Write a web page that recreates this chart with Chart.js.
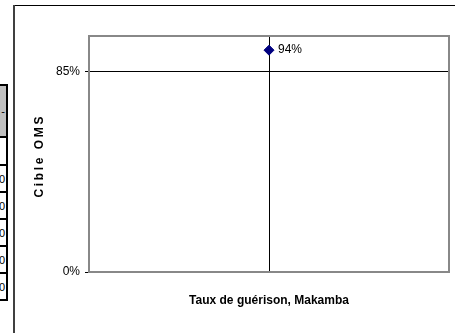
<!DOCTYPE html>
<html>
<head>
<meta charset="utf-8">
<script src="https://cdn.jsdelivr.net/npm/chart.js@4/dist/chart.umd.min.js"></script>
<style>
  html, body { margin: 0; padding: 0; background: #fff; }
  body { width: 455px; height: 333px; position: relative; overflow: hidden; }
  #sheet { position: absolute; left: 0; top: 84px; width: 8px; height: 220px; overflow: hidden; }
  #sheet table { position: absolute; right: 0; top: 0; width: 60px; border-collapse: collapse;
                 font: 11px 'Liberation Sans', Arial, sans-serif; color: #000; }
  #sheet td { border: 2px solid #000; padding: 0 1px 0 0; text-align: right; }
  #sheet tr.head td { background: #c0c0c0; height: 50px; }
  #sheet tr.blank td { height: 26px; }
  #sheet tr.row td { height: 25px; }
  #wrap { position: absolute; left: 0; top: 0; width: 455px; height: 333px; }
</style>
</head>
<body>
<div id="sheet">
  <table>
    <tr class="head"><td>-</td></tr>
    <tr class="blank"><td></td></tr>
    <tr class="row"><td>0</td></tr>
    <tr class="row"><td>0</td></tr>
    <tr class="row"><td>0</td></tr>
    <tr class="row"><td>0</td></tr>
    <tr class="row"><td>0</td></tr>
  </table>
</div>
<div id="wrap"><canvas id="c" width="455" height="333"></canvas></div>
<script>
// Cure rate for Makamba against the WHO target
const categories = ['Makamba'];
const cureRate = [94];
const targetOMS = 85;
const yTickValues = [0, targetOMS];
const xTitle = 'Taux de guérison, Makamba';
const yTitle = 'Cible OMS';

const FONT = "'Liberation Sans', Arial, sans-serif";

const decorations = {
  id: 'decorations',
  beforeDraw(chart) {
    const ctx = chart.ctx;
    ctx.save();
    // chart frame (top and left edges)
    ctx.fillStyle = '#000';
    ctx.fillRect(14, 5, 441, 1);
    ctx.fillStyle = '#404040';
    ctx.fillRect(13, 5, 2, 328);
    ctx.restore();
  },
  beforeDatasetsDraw(chart) {
    const { ctx, chartArea: a } = chart;
    ctx.save();
    ctx.strokeStyle = '#888';
    ctx.lineWidth = 2;
    ctx.strokeRect(a.left, a.top, a.right - a.left, a.bottom - a.top);
    ctx.restore();
  },
  afterDraw(chart) {
    const { ctx, chartArea: a } = chart;
    ctx.save();
    ctx.fillStyle = '#000';
    // value label next to the point
    const el = chart.getDatasetMeta(0).data[0];
    ctx.font = '12px ' + FONT;
    ctx.textAlign = 'left';
    ctx.textBaseline = 'middle';
    ctx.fillText(cureRate[0] + '%', el.x + 9, el.y);
    // x axis title
    ctx.font = 'bold 12px ' + FONT;
    ctx.textAlign = 'center';
    ctx.fillText(xTitle, (a.left + a.right) / 2, 301);
    // y axis title, letter-spaced and rotated
    const spacing = 2.6;
    const chars = Array.from(yTitle);
    const widths = chars.map(ch => ctx.measureText(ch).width);
    const total = widths.reduce((s, w) => s + w, 0) + spacing * (chars.length - 1);
    ctx.translate(40, 157);
    ctx.rotate(-Math.PI / 2);
    ctx.textAlign = 'left';
    let x = -total / 2;
    chars.forEach((ch, i) => { ctx.fillText(ch, x, 0); x += widths[i] + spacing; });
    ctx.restore();
  }
};

new Chart(document.getElementById('c'), {
  type: 'line',
  data: {
    labels: categories,
    datasets: [{
      data: cureRate,
      showLine: false,
      pointStyle: 'rectRot',
      pointRadius: 5,
      pointHoverRadius: 5,
      pointBackgroundColor: '#000080',
      pointBorderColor: '#000080',
      borderWidth: 1
    }]
  },
  options: {
    responsive: false,
    animation: false,
    events: [],
    layout: { padding: { top: 36, right: 2, left: 0, bottom: 0 } },
    plugins: { legend: { display: false }, tooltip: { enabled: false }, title: { display: false } },
    scales: {
      x: {
        type: 'category',
        offset: true,
        ticks: { display: false },
        border: { display: false },
        grid: { offset: false, color: '#000', lineWidth: 1, drawTicks: false },
        afterFit(scale) { scale.height = 61; }
      },
      y: {
        min: 0,
        max: 100,
        afterBuildTicks(scale) { scale.ticks = yTickValues.map(v => ({ value: v })); },
        ticks: {
          padding: 5,
          color: '#000',
          font: { family: FONT, size: 12 },
          callback: v => v + '%'
        },
        border: { display: false },
        grid: {
          color: ctx => (ctx.tick && ctx.tick.value === targetOMS ? '#000' : 'rgba(0,0,0,0)'),
          tickColor: '#000',
          tickLength: 4,
          lineWidth: 1
        },
        afterFit(scale) { scale.width = 89; }
      }
    }
  },
  plugins: [decorations]
});
</script>
</body>
</html>
